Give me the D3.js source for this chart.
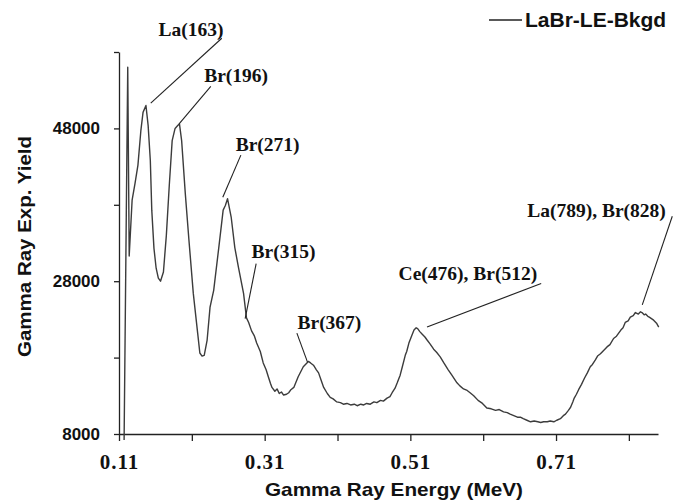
<!DOCTYPE html>
<html>
<head>
<meta charset="utf-8">
<script src="https://cdn.jsdelivr.net/npm/d3@7"></script>
<style>
  body { margin: 0; background: #fff; }
  .axis path, .axis line { stroke: #222; stroke-width: 1.3; }
  .xlab text { font-family: "Liberation Serif", "Times New Roman", serif; font-weight: bold; }
  .ylab text { font-family: "Liberation Sans", Arial, sans-serif; font-weight: bold; }
</style>
</head>
<body>
<div id="chart"></div>
<script>
// spectrum
const energy = [
  0.117, 0.120, 0.122, 0.124, 0.128, 0.132, 0.136, 0.140, 0.143, 0.147,
  0.150, 0.153, 0.155, 0.158, 0.161, 0.164, 0.167, 0.171, 0.175, 0.179,
  0.183, 0.187, 0.190, 0.193, 0.196, 0.201, 0.206, 0.212, 0.218, 0.221,
  0.224, 0.227, 0.231, 0.235, 0.240, 0.247, 0.253, 0.256, 0.259, 0.264,
  0.269, 0.274, 0.281, 0.285, 0.288, 0.292, 0.296, 0.299, 0.304, 0.308,
  0.312, 0.315, 0.318, 0.320, 0.324, 0.327, 0.330, 0.333, 0.336, 0.340,
  0.343, 0.346, 0.350, 0.356, 0.363, 0.367, 0.370, 0.373, 0.377, 0.381,
  0.384, 0.388, 0.391, 0.396, 0.400, 0.404, 0.409, 0.414, 0.418, 0.423,
  0.428, 0.433, 0.437, 0.442, 0.446, 0.450, 0.455, 0.460, 0.464, 0.469,
  0.473, 0.478, 0.482, 0.485, 0.489, 0.492, 0.496, 0.499, 0.503, 0.505,
  0.508, 0.512, 0.515, 0.518, 0.520, 0.523, 0.526, 0.530, 0.533, 0.537,
  0.542, 0.546, 0.551, 0.556, 0.562, 0.567, 0.574, 0.578, 0.583, 0.588,
  0.592, 0.597, 0.603, 0.609, 0.615, 0.621, 0.627, 0.632, 0.638, 0.643,
  0.647, 0.652, 0.657, 0.661, 0.665, 0.670, 0.675, 0.680, 0.685, 0.689,
  0.693, 0.698, 0.702, 0.707, 0.711, 0.716, 0.720, 0.723, 0.727, 0.730,
  0.733, 0.735, 0.738, 0.741, 0.745, 0.749, 0.753, 0.757, 0.760, 0.764,
  0.767, 0.771, 0.775, 0.780, 0.784, 0.789, 0.793, 0.799, 0.802, 0.805,
  0.809, 0.812, 0.816, 0.819, 0.821, 0.823, 0.826, 0.828, 0.831, 0.833,
  0.836, 0.838, 0.841, 0.844, 0.848, 0.851];
const yieldVals = [
  7200, 36600, 56000, 31300, 38600, 40800, 43200, 47700, 50100, 51000,
  48400, 43800, 37300, 32300, 29700, 28400, 28000, 29200, 34000, 40500,
  46400, 48000, 48300, 48600, 46400, 39500, 33400, 26400, 21200, 18600,
  18200, 18300, 20300, 24600, 26800, 32400, 37300, 37900, 38800, 36400,
  32400, 29800, 26400, 23200, 22600, 21500, 20800, 19900, 18800, 17300,
  16400, 15500, 14600, 14100, 13600, 13900, 13300, 13500, 13100, 13200,
  13400, 13800, 14100, 15500, 16800, 17200, 17500, 17300, 17000, 16400,
  16000, 14900, 14100, 13300, 12800, 12600, 12200, 12100, 11900, 12000,
  11800, 11900, 11700, 11900, 11800, 12000, 11900, 12200, 12100, 12400,
  12300, 12700, 12900, 13400, 14000, 14700, 15700, 16800, 18300, 18800,
  19900, 20900, 21600, 21900, 21800, 21400, 21100, 20700, 20300, 19800,
  19100, 18700, 18100, 17300, 16400, 15700, 14700, 14300, 13900, 13700,
  13400, 13000, 12400, 12000, 11400, 11300, 11100, 11200, 10900, 10800,
  10600, 10400, 10200, 10200, 10000, 9800, 9600, 9700, 9600, 9500,
  9600, 9600, 9700, 9600, 9800, 10000, 10400, 10600, 11100, 11500,
  12200, 12700, 13200, 13800, 14500, 15300, 16000, 16800, 17100, 17700,
  18200, 18500, 18900, 19400, 19700, 20500, 20800, 21600, 21900, 22600,
  22800, 23300, 23500, 23900, 23800, 23700, 24000, 23900, 23600, 23700,
  23400, 23300, 23100, 22900, 22500, 22000];

const xTicks = [0.11, 0.21, 0.31, 0.41, 0.51, 0.61, 0.71, 0.81];
const xLabeled = [0.11, 0.31, 0.51, 0.71];
const yTicks = [8000, 18000, 28000, 38000, 48000, 58000];
const yLabeled = [8000, 28000, 48000];

// peak annotations: text position, leader line start and end (data units)
const annLabels = ["La(163)", "Br(196)", "Br(271)", "Br(315)", "Br(367)", "Ce(476), Br(512)", "La(789), Br(828)"];
const annText = [[0.2087, 60100], [0.2708, 54100], [0.3141, 45100], [0.3358, 31000], [0.3989, 21700], [0.5890, 28200], [0.7656, 36400]];
const annFrom = [[0.2511, 59800], [0.2360, 53500], [0.2773, 44500], [0.2983, 30300], [0.3542, 21200], [0.6896, 27700], [0.8696, 36500]];
const annTo = [[0.1536, 51300], [0.1925, 48600], [0.2525, 39000], [0.2832, 23100], [0.3688, 17400], [0.5329, 22000], [0.8284, 24900]];

const seriesName = "LaBr-LE-Bkgd";

const W = 686, H = 501;
const margin = {left: 119, right: 28, top: 52, bottom: 67};
const width = W - margin.left - margin.right;
const height = H - margin.top - margin.bottom;

const svg = d3.select('#chart').append('svg')
  .attr('width', W).attr('height', H)
  .append('g')
  .attr('transform', `translate(${margin.left}, ${margin.top})`);

const xScale = d3.scaleLinear().domain([0.11, 0.85]).range([0, width]);
const yScale = d3.scaleLinear().domain([8000, 58000]).range([height, 0]);

const data = energy.map((e, i) => ({e: e, v: yieldVals[i]}));

// axes
svg.append('g')
  .attr('class', 'axis xlab')
  .attr('transform', `translate(0, ${height})`)
  .call(d3.axisBottom(xScale)
    .tickValues(xTicks)
    .tickSizeInner(7).tickSizeOuter(0).tickPadding(13)
    .tickFormat(d => xLabeled.includes(d) ? d.toFixed(2) : ''))
  .selectAll('text')
  .style('font-size', '21px')
  .style('letter-spacing', '1px')
  .attr('fill', '#111');

svg.append('g')
  .attr('class', 'axis ylab')
  .call(d3.axisLeft(yScale)
    .tickValues(yTicks)
    .tickSizeInner(5).tickSizeOuter(0).tickPadding(14)
    .tickFormat(d => yLabeled.includes(d) ? d : ''))
  .selectAll('text')
  .style('font-size', '17px')
  .attr('fill', '#111');

// spectrum line
const line = d3.line()
  .x(d => xScale(d.e))
  .y(d => yScale(d.v));

svg.append('path')
  .datum(data)
  .attr('fill', 'none')
  .attr('stroke', '#3c3c3c')
  .attr('stroke-width', 1.4)
  .attr('stroke-linejoin', 'round')
  .attr('d', line);

// annotations
svg.selectAll('.leader')
  .data(annLabels)
  .enter()
  .append('line')
  .attr('class', 'leader')
  .attr('x1', (d, i) => xScale(annFrom[i][0]))
  .attr('y1', (d, i) => yScale(annFrom[i][1]))
  .attr('x2', (d, i) => xScale(annTo[i][0]))
  .attr('y2', (d, i) => yScale(annTo[i][1]))
  .attr('stroke', '#222')
  .attr('stroke-width', 1.1);

svg.selectAll('.ann')
  .data(annLabels)
  .enter()
  .append('text')
  .attr('class', 'ann')
  .attr('x', (d, i) => xScale(annText[i][0]))
  .attr('y', (d, i) => yScale(annText[i][1]))
  .attr('text-anchor', 'middle')
  .style('font-family', '"Liberation Serif", "Times New Roman", serif')
  .style('font-weight', 'bold')
  .style('font-size', '19.5px')
  .attr('fill', '#111')
  .text(d => d);

// axis titles
svg.append('text')
  .attr('x', 265 - margin.left)
  .attr('y', height + 62)
  .attr('textLength', 258)
  .attr('lengthAdjust', 'spacingAndGlyphs')
  .style('font-family', '"Liberation Sans", Arial, sans-serif')
  .style('font-weight', 'bold')
  .style('font-size', '19px')
  .attr('fill', '#111')
  .text('Gamma Ray Energy (MeV)');

svg.append('text')
  .attr('transform', `translate(${-margin.left + 31}, ${357 - margin.top}) rotate(-90)`)
  .attr('textLength', 221)
  .attr('lengthAdjust', 'spacingAndGlyphs')
  .style('font-family', '"Liberation Sans", Arial, sans-serif')
  .style('font-weight', 'bold')
  .style('font-size', '19px')
  .attr('fill', '#111')
  .text('Gamma Ray Exp. Yield');

// legend
const legend = svg.append('g')
  .attr('transform', `translate(${489 - margin.left}, ${20 - margin.top})`);
legend.append('line')
  .attr('x1', 0).attr('x2', 33)
  .attr('y1', 0).attr('y2', 0)
  .attr('stroke', '#222')
  .attr('stroke-width', 1.4);
legend.append('text')
  .attr('x', 36)
  .attr('y', 7)
  .style('font-family', '"Liberation Sans", Arial, sans-serif')
  .style('font-weight', 'bold')
  .style('font-size', '21px')
  .attr('fill', '#111')
  .text(seriesName);
</script>
</body>
</html>
